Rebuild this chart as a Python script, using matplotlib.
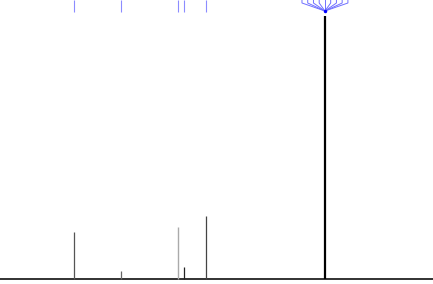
import numpy as np
import matplotlib
matplotlib.use("Agg")
import matplotlib.pyplot as plt

# peak positions (ppm) and intensities (arbitrary units)
peak_ppm = [180.7, 155.7, 125.4, 122.3, 110.6, 47.4]
peak_int = [47, 8, 52, 12, 63, 263]
peak_col = ["#555555", "#666666", "#aaaaaa", "#222222", "#444444", "#000000"]
peak_lw = [0.9, 0.9, 1.0, 0.9, 0.9, 1.6]

# labelled peaks (single leader lines) and the multiplet with a fan of leaders
label_ppm = [180.7, 155.7, 125.4, 122.3, 110.6]
multiplet_ppm = 47.4
multiplet_n = 9

fig = plt.figure(figsize=(4.33, 2.84), dpi=100)
ax = fig.add_axes([0, 0, 1, 1])
ax.set_xlim(220, -10)
ax.set_ylim(-5, 279)
ax.axis("off")

# baseline
ax.plot([220, -10], [0, 0], color="#222222", lw=1.3, solid_capstyle="butt")

# peaks
for p, h, c, w in zip(peak_ppm, peak_int, peak_col, peak_lw):
    ax.vlines(p, 0, h, color=c, lw=w)

# leader lines at the top
blue = "#7070ff"
for p in label_ppm:
    ax.vlines(p, 267, 279, color=blue, lw=0.8, alpha=0.8)

fan_x = multiplet_ppm + np.linspace(12.2, -12.2, multiplet_n)
for fx in fan_x:
    ax.plot([multiplet_ppm, fx, fx], [268, 276, 279], color=blue, lw=0.7)
ax.plot(multiplet_ppm, 268, "o", color="#0000ff", ms=2.5, mec="none")

fig.savefig("out.png", dpi=100)
